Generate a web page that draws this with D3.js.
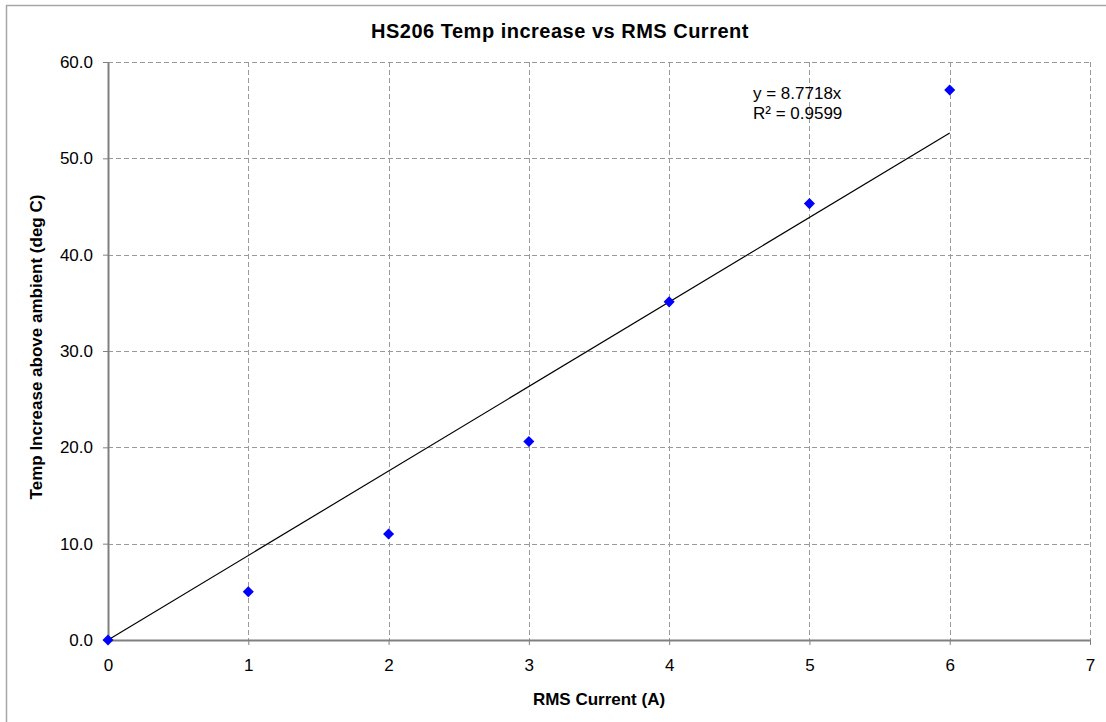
<!DOCTYPE html>
<html>
<head>
<meta charset="utf-8">
<script src="https://cdn.jsdelivr.net/npm/d3@7"></script>
<style>
  body { margin: 0; background: #fff; }
  svg { display: block; font-family: "Liberation Sans", Arial, sans-serif; }
</style>
</head>
<body>
<svg id="chart" width="1106" height="722"></svg>
<script>
// Measured temperature rise at each RMS current
const currents = [0, 1, 2, 3, 4, 5, 6];
const tempRise = [0.0, 5.0, 11.0, 20.6, 35.1, 45.3, 57.1];
const xTicks = [0, 1, 2, 3, 4, 5, 6, 7];
const yTicks = [0, 10, 20, 30, 40, 50, 60];
const trendSlope = 8.7718;
const trendR2 = 0.9599;

const svg = d3.select("#chart");
const x = d3.scaleLinear().domain([0, 7]).range([108, 1090]);
const y = d3.scaleLinear().domain([0, 60]).range([640, 62]);

// chart frame
svg.append("rect")
  .attr("x", 6.5).attr("y", 5.5).attr("width", 1120).attr("height", 740)
  .attr("fill", "none").attr("stroke", "#a6a6a6").attr("stroke-width", 1.5);

// dashed grid
const grid = svg.append("g").attr("stroke", "#9a9a9a").attr("stroke-dasharray", "5,3").attr("stroke-width", 1);
grid.selectAll("line.h").data(yTicks.filter(d => d > 0)).join("line")
  .attr("x1", x(0)).attr("x2", x(7))
  .attr("y1", d => Math.round(y(d)) + 0.5).attr("y2", d => Math.round(y(d)) + 0.5);
grid.selectAll("line.v").data(xTicks.filter(d => d > 0)).join("line")
  .attr("y1", y(60)).attr("y2", y(0))
  .attr("x1", d => Math.round(x(d)) + 0.5).attr("x2", d => Math.round(x(d)) + 0.5);

// axes
const xAxis = d3.axisBottom(x).tickValues(xTicks).tickFormat(d3.format("d")).tickSizeInner(5).tickSizeOuter(0).tickPadding(14);
const yAxis = d3.axisLeft(y).tickValues(yTicks).tickFormat(d3.format(".1f")).tickSizeInner(5).tickSizeOuter(0).tickPadding(10);

const gx = svg.append("g").attr("transform", `translate(0,${y(0)})`).call(xAxis);
const gy = svg.append("g").attr("transform", `translate(${x(0)},0)`).call(yAxis);
[gx, gy].forEach(g => {
  g.attr("font-size", null).attr("font-family", null);
  g.select(".domain").attr("stroke", "#808080").attr("stroke-width", 2);
  g.selectAll(".tick line").attr("stroke", "#808080").attr("stroke-width", 1);
  g.selectAll(".tick text").attr("fill", "#000").style("font-size", "17px");
});

// linear trendline through the origin
svg.append("line")
  .attr("x1", x(0)).attr("y1", y(0))
  .attr("x2", x(6)).attr("y2", y(trendSlope * 6))
  .attr("stroke", "#000").attr("stroke-width", 1.2);

// data markers
const pts = currents.map((c, i) => ({ c, t: tempRise[i] }));
svg.append("g").selectAll("path").data(pts).join("path")
  .attr("d", d3.symbol(d3.symbolDiamond2, 78))
  .attr("transform", d => `translate(${x(d.c)},${y(d.t)})`)
  .attr("fill", "#0000ff");

// trendline equation
const eq = svg.append("text").attr("x", 753).attr("y", 99).style("font-size", "17px").attr("fill", "#000");
eq.append("tspan").attr("x", 753).text(`y = ${trendSlope}x`);
eq.append("tspan").attr("x", 753).attr("dy", 20).text(`R² = ${trendR2}`);

// titles
svg.append("text").attr("x", 560).attr("y", 38).attr("text-anchor", "middle")
  .style("font-size", "20px").style("font-weight", "bold").style("letter-spacing", "0.5px")
  .text("HS206 Temp increase vs RMS Current");
svg.append("text").attr("x", 599).attr("y", 705).attr("text-anchor", "middle")
  .style("font-size", "17px").style("font-weight", "bold").text("RMS Current (A)");
svg.append("text").attr("transform", "translate(42,347) rotate(-90)").attr("text-anchor", "middle")
  .style("font-size", "17px").style("font-weight", "bold").text("Temp Increase above ambient (deg C)");
</script>
</body>
</html>
